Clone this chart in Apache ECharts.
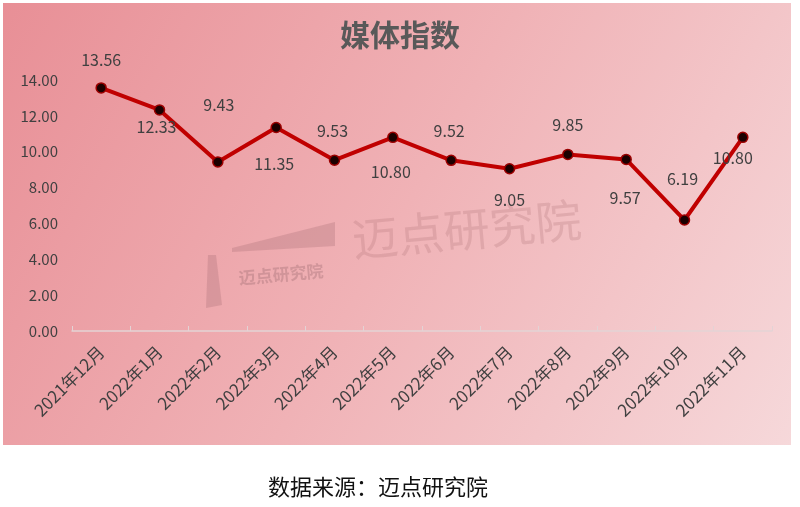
<!DOCTYPE html>
<html><head><meta charset="utf-8">
<script src="https://cdn.jsdelivr.net/npm/echarts@6/dist/echarts.min.js"></script>
<style>html,body{margin:0;padding:0;background:#fff}#c{width:800px;height:507px}</style>
</head><body><div id="c"></div>
<script>
const categories = ['2021年12月','2022年1月','2022年2月','2022年3月','2022年4月','2022年5月','2022年6月','2022年7月','2022年8月','2022年9月','2022年10月','2022年11月'];
const values = [13.56, 12.33, 9.43, 11.35, 9.53, 10.80, 9.52, 9.05, 9.85, 9.57, 6.19, 10.80];
const yTicks = [0, 2, 4, 6, 8, 10, 12, 14];

// label placement (style), kept apart from the data
const labelDy = [-28, 17, -57, 36, -29, 35, -29, 31, -29, 38, -41, 21];
const labelDx = [0, -3, 1, -2, -2, -2, -2, 0, 0, -1, -2, -10];

const chart = echarts.init(document.getElementById('c'), null, {renderer: 'canvas'});
const font = '"Noto Sans CJK SC", "Noto Sans", sans-serif';
chart.setOption({
  animation: false,
  backgroundColor: '#ffffff',
  graphic: [
    {type: 'rect', z: -10, left: 3, top: 3, shape: {width: 788, height: 442},
      style: {fill: new echarts.graphic.LinearGradient(0, 0, 1, 1, [
        {offset: 0, color: '#E88F96'}, {offset: 0.5, color: '#F0B2B6'}, {offset: 1, color: '#F6D8DA'}])}},
    {type: 'text', z: -5, left: 350, top: 196, rotation: 0.09,
      style: {text: '迈点研究院', font: '46px ' + font, fill: 'rgba(170,110,115,0.25)'}},
    {type: 'text', z: -5, left: 238, top: 262, rotation: 0.09,
      style: {text: '迈点研究院', font: 'bold 17px ' + font, fill: 'rgba(150,100,105,0.33)'}},
    {type: 'polygon', z: -5, shape: {points: [[232, 248], [335, 222], [335, 246], [232, 252]]},
      style: {fill: 'rgba(160,105,110,0.28)'}},
    {type: 'polygon', z: -5, shape: {points: [[208, 255], [216, 255], [222, 305], [206, 308]]},
      style: {fill: 'rgba(160,105,110,0.28)'}},
    {type: 'text', left: 268, top: 476,
      style: {text: '数据来源：迈点研究院', font: '22px ' + font, fill: '#111'}}
  ],
  title: {
    text: '媒体指数', left: 'center', top: 15,
    textStyle: {fontSize: 30, fontWeight: 'bold', color: '#595959', fontFamily: font}
  },
  grid: {left: 72, right: 28, top: 80, bottom: 176},
  xAxis: {
    type: 'category', data: categories, boundaryGap: true,
    axisLine: {lineStyle: {color: '#E3D3D5', width: 1.5}},
    axisTick: {show: true, inside: true, length: 5, lineStyle: {color: '#E3D3D5'}},
    axisLabel: {rotate: 45, interval: 0, fontSize: 17, color: '#404040', fontFamily: font, margin: 18}
  },
  yAxis: {
    type: 'value', min: 0, max: 14, interval: 2,
    axisLine: {show: false}, axisTick: {show: false}, splitLine: {show: false},
    axisLabel: {formatter: v => v.toFixed(2), fontSize: 15, color: '#404040', fontFamily: font, margin: 14}
  },
  series: [{
    type: 'line', data: values.map((v, i) => ({
      value: v,
      label: {offset: [labelDx[i], labelDy[i]]}
    })),
    lineStyle: {color: '#C00000', width: 4},
    symbol: 'circle', symbolSize: 10,
    itemStyle: {color: '#1a0000', borderColor: '#9B0000', borderWidth: 1.5},
    label: {show: true, position: 'inside', formatter: p => p.value.toFixed(2),
      fontSize: 16, color: '#404040', fontFamily: font}
  }]
});
</script></body></html>
